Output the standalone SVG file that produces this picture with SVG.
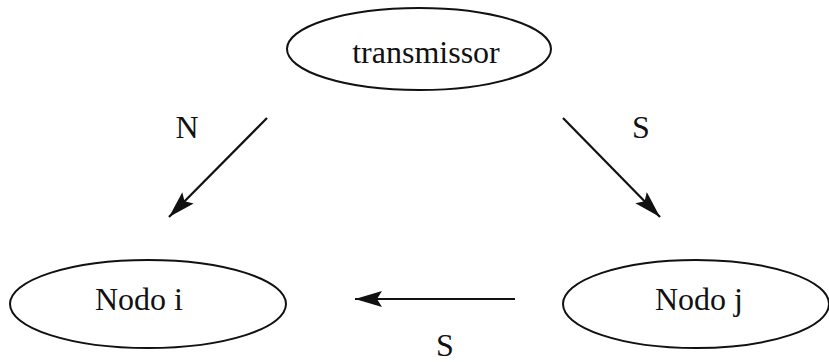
<svg xmlns="http://www.w3.org/2000/svg" width="829" height="362" viewBox="0 0 829 362">
  <style>
    .node { fill: #ffffff; stroke: #111111; stroke-width: 2; }
    .label { font-family: "Liberation Serif", "Times New Roman", serif; font-size: 32px; fill: #111111; text-anchor: middle; }
    .edge { stroke: #111111; stroke-width: 2.2; fill: none; marker-end: url(#head); }
  </style>
  <defs>
    <marker id="head" markerUnits="userSpaceOnUse" markerWidth="28" markerHeight="18" refX="27" refY="8" orient="auto">
      <path d="M0,0 L27,8 L0,16 L5,8 Z" fill="#111111"/>
    </marker>
  </defs>
  <rect width="829" height="362" fill="#ffffff"/>

  <g id="transmissor">
    <ellipse class="node" cx="419" cy="49" rx="132" ry="41"/>
    <text class="label" x="426" y="63">transmissor</text>
  </g>

  <g id="nodo-i">
    <ellipse class="node" cx="148" cy="304" rx="138" ry="44"/>
    <text class="label" x="139" y="310">Nodo i</text>
  </g>

  <g id="nodo-j">
    <ellipse class="node" cx="696" cy="304" rx="133" ry="44"/>
    <text class="label" x="699" y="310">Nodo j</text>
  </g>

  <g id="connectors">
    <line class="edge" x1="267" y1="118" x2="169" y2="217"/>
    <line class="edge" x1="563" y1="118" x2="660" y2="217"/>
    <line class="edge" x1="515" y1="299" x2="355" y2="299"/>
    <text class="label" x="187" y="138">N</text>
    <text class="label" x="641" y="138">S</text>
    <text class="label" x="445" y="356">S</text>
  </g>
</svg>
